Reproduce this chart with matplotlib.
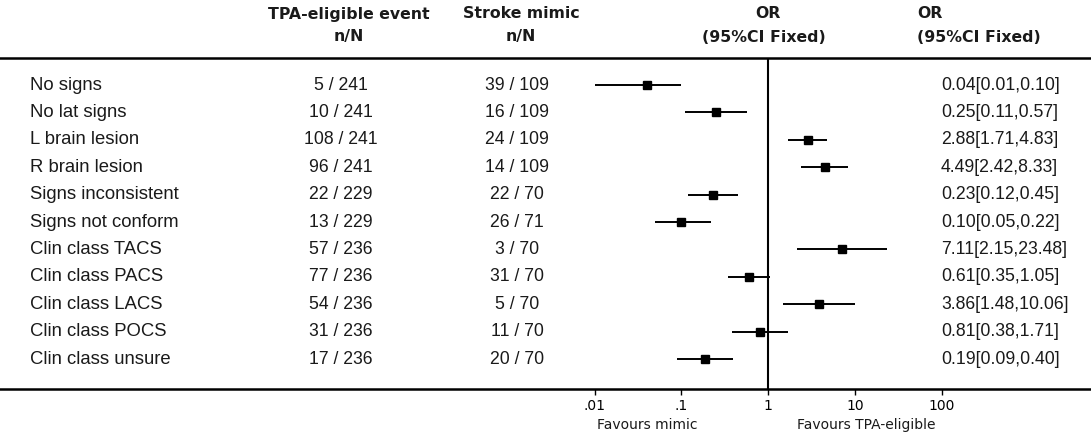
import matplotlib
matplotlib.use("Agg")
import matplotlib.pyplot as plt
from matplotlib.transforms import blended_transform_factory

# ---- data ----
labels = ["No signs", "No lat signs", "L brain lesion", "R brain lesion",
          "Signs inconsistent", "Signs not conform", "Clin class TACS",
          "Clin class PACS", "Clin class LACS", "Clin class POCS",
          "Clin class unsure"]
tpa_n = [5, 10, 108, 96, 22, 13, 57, 77, 54, 31, 17]
tpa_N = [241, 241, 241, 241, 229, 229, 236, 236, 236, 236, 236]
mim_n = [39, 16, 24, 14, 22, 26, 3, 31, 5, 11, 20]
mim_N = [109, 109, 109, 109, 70, 71, 70, 70, 70, 70, 70]
or_est = [0.04, 0.25, 2.88, 4.49, 0.23, 0.10, 7.11, 0.61, 3.86, 0.81, 0.19]
ci_lo = [0.01, 0.11, 1.71, 2.42, 0.12, 0.05, 2.15, 0.35, 1.48, 0.38, 0.09]
ci_hi = [0.10, 0.57, 4.83, 8.33, 0.45, 0.22, 23.48, 1.05, 10.06, 1.71, 0.40]
tick_vals = [0.01, 0.1, 1, 10, 100]
tick_labels = [".01", ".1", "1", "10", "100"]

W, H = 1091, 436
fig = plt.figure(figsize=(W / 100, H / 100), dpi=100)
top_px, bot_px = 58, 389
ax = fig.add_axes([0, 1 - bot_px / H, 1, (bot_px - top_px) / H])

# log scale mapping: 1 at x=768 px, one decade = 86.75 px
x_one, dec = 768, 86.75
ax.set_xscale("log")
ax.set_xlim(10 ** ((0 - x_one) / dec), 10 ** ((W - x_one) / dec))
row0, rstep = 85, 27.4
ax.set_ylim((bot_px - row0) / rstep, (top_px - row0) / rstep)

rows = list(range(len(labels)))
for i in rows:
    ax.plot([ci_lo[i], ci_hi[i]], [i, i], color="black", lw=1.4,
            solid_capstyle="butt")
ax.plot(or_est, rows, "s", color="black", markersize=6)
ax.axvline(1, color="black", lw=1.5)

for s in ["left", "right"]:
    ax.spines[s].set_visible(False)
ax.spines["top"].set_linewidth(1.8)
ax.spines["bottom"].set_linewidth(1.8)
ax.set_yticks([])
ax.set_xticks(tick_vals)
ax.set_xticklabels(tick_labels)
ax.xaxis.set_minor_locator(matplotlib.ticker.NullLocator())
ax.tick_params(axis="x", direction="out", length=4, width=1, pad=3,
               labelsize=10, labelfontfamily="DejaVu Sans")

trans = blended_transform_factory(ax.transAxes, ax.transData)
body = dict(family="Liberation Sans", fontsize=12.7, color="#1a1a1a",
            va="center", transform=trans)
lab = dict(body, fontsize=13.3)
for i in rows:
    ax.text(30 / W, i, labels[i], ha="left", **lab)
    ax.text(341 / W, i, f"{tpa_n[i]} / {tpa_N[i]}", ha="center", **body)
    ax.text(517 / W, i, f"{mim_n[i]} / {mim_N[i]}", ha="center", **body)
    ax.text(941 / W, i, f"{or_est[i]:.2f}[{ci_lo[i]:.2f},{ci_hi[i]:.2f}]",
            ha="left", **body)

hdr = dict(family="DejaVu Sans", fontweight="bold", fontsize=11.3,
           color="#1a1a1a", va="center")
fig.text(349 / W, 1 - 14 / H, "TPA-eligible event", ha="center", **hdr)
fig.text(349 / W, 1 - 37 / H, "n/N", ha="center", **hdr)
fig.text(521 / W, 1 - 14 / H, "Stroke mimic", ha="center", **hdr)
fig.text(521 / W, 1 - 37 / H, "n/N", ha="center", **hdr)
fig.text(768 / W, 1 - 14 / H, "OR", ha="center", **hdr)
fig.text(764 / W, 1 - 37 / H, "(95%CI Fixed)", ha="center", **hdr)
fig.text(917 / W, 1 - 14 / H, "OR", ha="left", **hdr)
fig.text(917 / W, 1 - 37 / H, "(95%CI Fixed)", ha="left", **hdr)

foot = dict(family="DejaVu Sans", fontsize=10, color="#1a1a1a", va="center")
fig.text(647 / W, 1 - 425 / H, "Favours mimic", ha="center", **foot)
fig.text(866 / W, 1 - 425 / H, "Favours TPA-eligible", ha="center", **foot)

fig.savefig("out.png", dpi=100, facecolor="white")
